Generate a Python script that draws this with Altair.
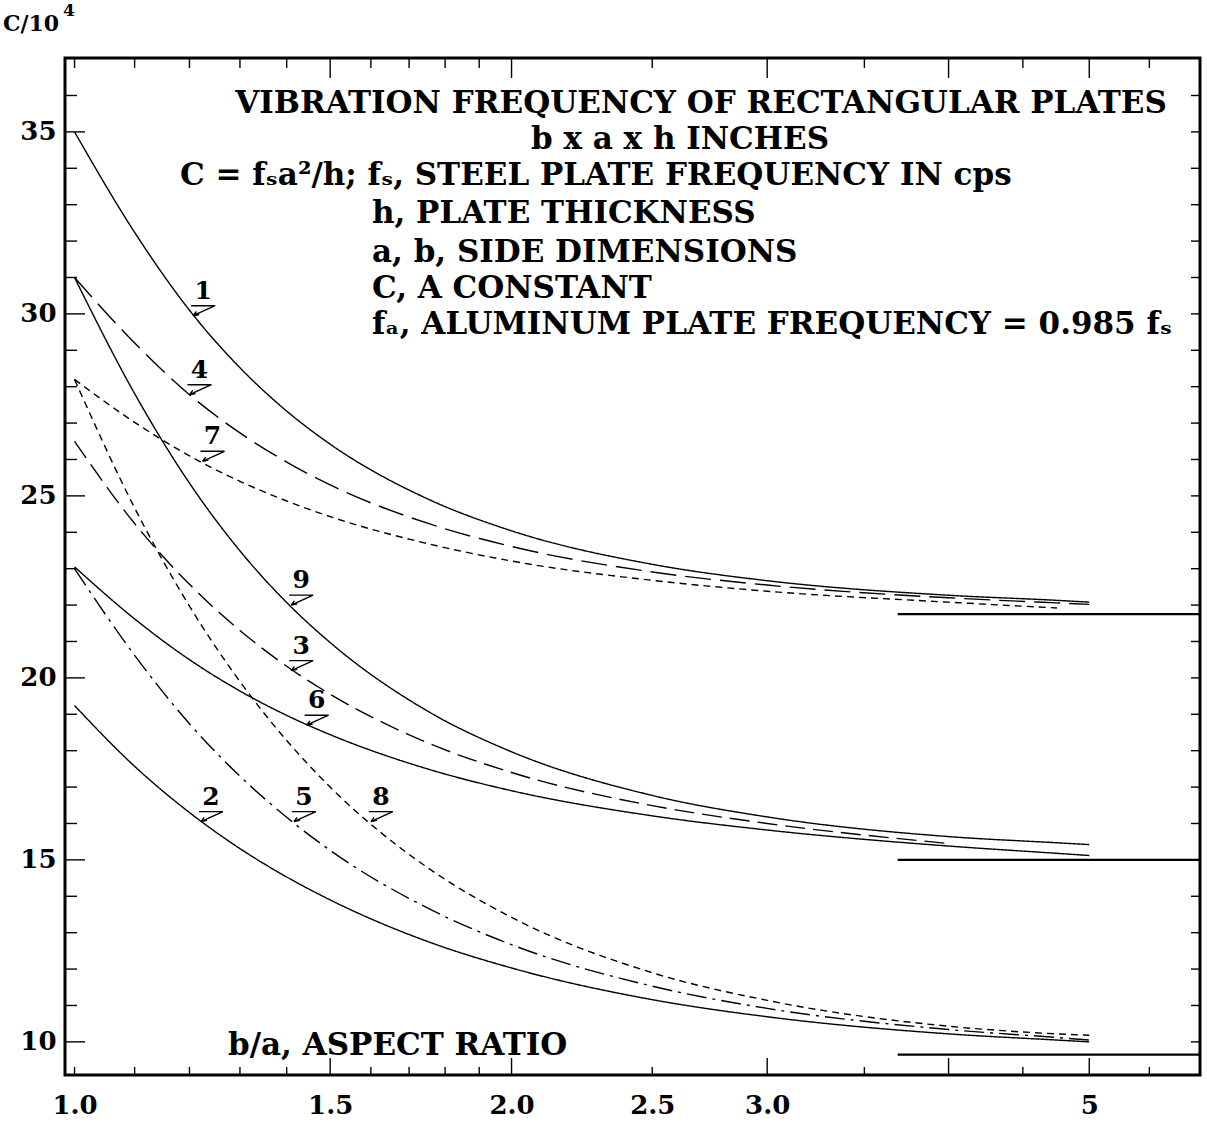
import altair as alt
import pandas as pd

# ---- aspect ratio b/a at which the curves are sampled ----
RATIO = [1.0, 1.1, 1.2, 1.3, 1.4, 1.5, 1.75, 2.0, 2.5, 3.0, 4.0, 4.75, 5.0]

# ---- C/10^4 for each edge-condition case (None = curve not drawn there) ----
C1 = [35.0, 32.24, 30.10, 28.52, 27.33, 26.42, 24.92, 24.04, 23.12, 22.67, 22.27, 22.13, 22.08]
C4 = [31.0, 29.20, 27.78, 26.73, 25.93, 25.30, 24.25, 23.61, 22.91, 22.55, 22.20, 22.06, 22.02]
C7 = [28.2, 27.02, 26.10, 25.40, 24.86, 24.43, 23.69, 23.21, 22.68, 22.38, 22.08, 21.92, None]
C9 = [31.0, 27.81, 25.35, 23.49, 22.07, 20.97, 19.09, 17.97, 16.77, 16.18, 15.64, 15.47, 15.42]
C3 = [26.5, 24.24, 22.57, 21.30, 20.32, 19.55, 18.22, 17.40, 16.49, 16.00, 15.45, None, None]
C6 = [23.05, 21.62, 20.50, 19.64, 18.97, 18.44, 17.50, 16.90, 16.21, 15.82, 15.38, 15.18, 15.12]
C2 = [19.24, 17.57, 16.30, 15.31, 14.53, 13.90, 12.76, 12.03, 11.16, 10.69, 10.22, 10.05, 10.00]
C5 = [23.0, 20.62, 18.74, 17.30, 16.17, 15.26, 13.68, 12.67, 11.53, 10.92, 10.34, 10.12, 10.05]
C8 = [28.2, 24.67, 21.97, 19.90, 18.28, 17.00, 14.79, 13.42, 11.90, 11.14, 10.43, 10.22, 10.18]

CURVE_IDS = ["1", "4", "7", "9", "3", "6", "2", "5", "8"]
CURVE_VALUES = [C1, C4, C7, C9, C3, C6, C2, C5, C8]

# ---- long-plate limits (horizontal reference lines) ----
ASYM_C = [21.75, 15.0, 9.65]
ASYM_FROM = [3.69, 3.69, 3.69]
ASYM_TO = [5.96, 5.96, 5.96]

# ---- curve-number callouts: point on curve that each flag touches ----
TAG_ID = ["1", "4", "7", "9", "3", "6", "2", "5", "8"]
TAG_RATIO = [1.207, 1.2, 1.225, 1.41, 1.41, 1.445, 1.222, 1.416, 1.6]
TAG_C = [29.95, 27.78, 25.95, 22.0, 20.2, 18.7, 16.05, 16.05, 16.05]

# ---- axis labels and tick positions ----
X_LABELS = [1.0, 1.5, 2.0, 2.5, 3.0, 5.0]
X_MINOR = [1.0, 1.1, 1.2, 1.3, 1.4, 1.6, 1.7, 1.8, 1.9, 2.5, 3.5, 4.5, 5.5]
X_MAJOR = [1.5, 2.0, 3.0, 4.0, 5.0]
Y_LABELS = [10, 15, 20, 25, 30, 35]
Y_TICKS = list(range(10, 37))

# ---- styling ----
SERIF = "DejaVu Serif"
W, H = 1135, 1017
DASHES = {
    "1": [1, 0], "4": [26, 9], "7": [7, 5],
    "9": [1, 0], "3": [20, 8], "6": [1, 0],
    "2": [1, 0], "5": [20, 6, 3, 6], "8": [7, 5],
}

rows = []
for cid, vals in zip(CURVE_IDS, CURVE_VALUES):
    for r, c in zip(RATIO, vals):
        if c is not None:
            rows.append({"curve": cid, "ratio": r, "C": c})
curves_df = pd.DataFrame(rows)

x_scale = alt.Scale(type="log", domain=[0.985, 5.96], nice=False)
y_scale = alt.Scale(domain=[9.09, 37.03], nice=False, zero=False)

x_axis = alt.Axis(
    values=X_LABELS,
    labelExpr="datum.value == 5 ? '5' : format(datum.value, '.1f')",
    ticks=False, domain=False, grid=False, title=None,
    labelFont=SERIF, labelFontSize=26, labelFontWeight="bold",
    labelColor="black", labelPadding=17, labelFlush=False, labelOverlap=False,
)
y_axis = alt.Axis(
    values=Y_LABELS, ticks=False, domain=False, grid=False, title=None,
    labelFont=SERIF, labelFontSize=26, labelFontWeight="bold",
    labelColor="black", labelPadding=9,
)

X = alt.X("ratio:Q", scale=x_scale, axis=x_axis)
Y = alt.Y("C:Q", scale=y_scale, axis=y_axis)

lines = alt.Chart(curves_df).mark_line(
    color="black", strokeWidth=1.4, interpolate="monotone"
).encode(
    x=X, y=Y, detail="curve:N",
    strokeDash=alt.StrokeDash(
        "curve:N",
        scale=alt.Scale(domain=CURVE_IDS, range=[DASHES[c] for c in CURVE_IDS]),
        legend=None,
    ),
)

asym_df = pd.DataFrame({"ratio": ASYM_FROM, "ratio2": ASYM_TO, "C": ASYM_C})
asym = alt.Chart(asym_df).mark_rule(color="black", strokeWidth=2.2).encode(
    x=X, x2="ratio2:Q", y=Y
)

# callout flags: a bar with a diagonal leading down to the curve
tag_df = pd.DataFrame({"curve": TAG_ID, "ratio": TAG_RATIO, "C": TAG_C})
flag_path = "M -0.08 -0.4 L 0.88 -0.4 L 0 0 M 0 0 L 0.24 -0.05 M 0 0 L 0.13 -0.17"
flags = alt.Chart(tag_df).mark_point(
    shape=flag_path, size=2500, filled=False, color="black",
    strokeWidth=1.4, opacity=1,
).encode(x=X, y=Y)
tag_text = alt.Chart(tag_df).mark_text(
    font=SERIF, fontSize=25, fontWeight="bold", color="black",
    dx=10, dy=-25, baseline="middle", align="center",
).encode(x=X, y=Y, text="curve:N")

# inward ticks on all four sides
ytick_df = pd.DataFrame({"C": Y_TICKS})
xt_df = pd.DataFrame({
    "ratio": X_MINOR + X_MAJOR,
    "major": [0] * len(X_MINOR) + [1] * len(X_MAJOR),
})


def tick_rules(df, filt, **enc):
    return alt.Chart(df).transform_filter(filt).mark_rule(
        color="black", strokeWidth=1.4
    ).encode(**enc)


left_major = tick_rules(ytick_df, "datum.C % 5 == 0", y=Y, x=alt.value(0), x2=alt.value(20))
left_minor = tick_rules(ytick_df, "datum.C % 5 != 0", y=Y, x=alt.value(0), x2=alt.value(12))
right_all = tick_rules(ytick_df, "true", y=Y, x=alt.value(W), x2=alt.value(W - 9))
bottom_major = tick_rules(xt_df, "datum.major == 1", x=X, y=alt.value(H), y2=alt.value(H - 17))
bottom_minor = tick_rules(xt_df, "datum.major == 0", x=X, y=alt.value(H), y2=alt.value(H - 8))
top_major = tick_rules(xt_df, "datum.major == 1", x=X, y=alt.value(0), y2=alt.value(20))
top_minor = tick_rules(xt_df, "datum.major == 0", x=X, y=alt.value(0), y2=alt.value(10))


def note(text, x, y, size=31, align="left"):
    return alt.Chart(pd.DataFrame({"t": [text]})).mark_text(
        font=SERIF, fontSize=size, fontWeight="bold", color="black",
        align=align, baseline="middle",
    ).encode(x=alt.value(x), y=alt.value(y), text="t:N")


notes = [
    note("VIBRATION FREQUENCY OF RECTANGULAR PLATES", 636, 46, align="center"),
    note("b x a x h INCHES", 615, 82, align="center"),
    note("C = f\u209ba\u00b2/h; f\u209b, STEEL PLATE FREQUENCY IN  cps", 115, 118),
    note("h, PLATE THICKNESS", 307, 156),
    note("a, b, SIDE DIMENSIONS", 307, 195),
    note("C, A CONSTANT", 307, 231),
    note("f\u2090, ALUMINUM PLATE FREQUENCY = 0.985 f\u209b", 307, 267),
    note("b/a, ASPECT RATIO", 163, 988),
    note("C/10", -62, -34, size=22),
    note("4", -2, -47, size=17),
]

chart = alt.layer(
    lines, asym, flags, tag_text,
    left_major, left_minor, right_all,
    bottom_major, bottom_minor, top_major, top_minor,
    *notes,
).properties(
    width=W, height=H,
    padding={"left": 65, "top": 58, "right": 7, "bottom": 54},
    autosize=alt.AutoSizeParams(type="none"),
    background="white",
).configure_view(stroke="black", strokeWidth=3)

chart.save("out.html", embed_options={"renderer": "svg", "actions": False})
